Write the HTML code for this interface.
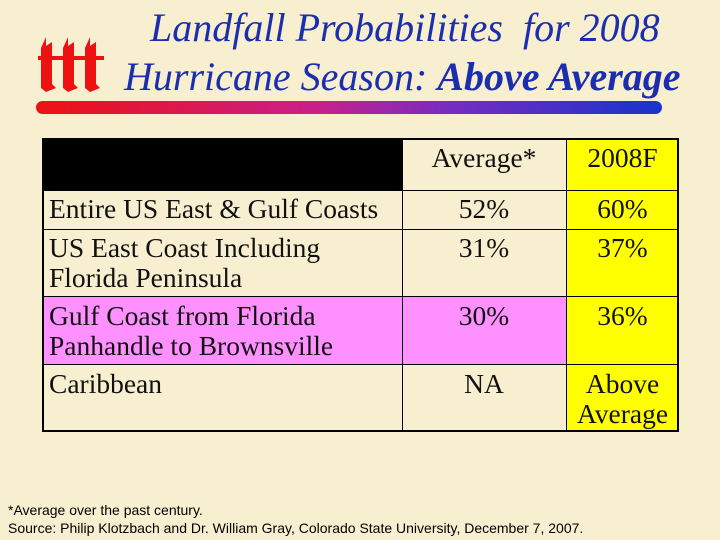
<!DOCTYPE html>
<html><head><meta charset="utf-8"><style>
body{margin:0;width:720px;height:540px;background:#f8eed0;position:relative;overflow:hidden;font-family:"Liberation Serif",serif;}
.t{position:absolute;color:#1b2fae;font-style:italic;font-size:40px;white-space:nowrap;}
.c{position:absolute;box-sizing:border-box;font-size:27.5px;line-height:30px;color:#111;white-space:nowrap}
.ctr{text-align:center}
.hl{position:absolute;background:#000}
.foot{position:absolute;left:8px;font-family:"Liberation Sans",sans-serif;font-size:14px;color:#000;white-space:nowrap}
</style></head><body>
<svg style="position:absolute;left:38px;top:34px" width="66" height="60" viewBox="0 0 66 60">
<g fill="#ee1111">
<polygon points="3,14 8,3 8,12 14,8 14,50 18,54 8,58 3,54"/>
<polygon points="25,14 30,3 30,12 36,8 36,50 40,54 30,58 25,54"/>
<polygon points="47,14 52,3 52,12 58,8 58,50 62,54 52,58 47,54"/>
<rect x="0" y="22" width="66" height="4"/>
</g></svg>
<div class="t" style="left:150px;top:4px">Landfall Probabilities&nbsp; for 2008</div>
<div class="t" style="left:124px;top:53px">Hurricane Season: <b>Above Average</b></div>
<div style="position:absolute;left:36px;top:101px;width:626px;height:13px;border-radius:7px;background:linear-gradient(90deg,#ee1111,#c8208a 45%,#7a2cc0 65%,#1833cc)"></div>

<div style="position:absolute;left:42px;top:138px;width:637px;height:294px;">
<div class="c" style="left:0;top:0;width:360px;height:52px;background:#000"></div>
<div class="c ctr" style="left:360px;top:5px;width:164px">Average*</div>
<div class="c ctr" style="left:524px;top:0;width:113px;height:294px;background:#ffff00;padding-top:5px">2008F</div>
<div class="c" style="left:0;top:158px;width:524px;height:68px;background:#ff90ff"></div>

<div class="c" style="left:7px;top:56px">Entire US East &amp; Gulf Coasts</div>
<div class="c ctr" style="left:360px;top:56px;width:164px">52%</div>
<div class="c ctr" style="left:524px;top:56px;width:113px">60%</div>

<div class="c" style="left:7px;top:95px">US East Coast Including<br>Florida Peninsula</div>
<div class="c ctr" style="left:360px;top:95px;width:164px">31%</div>
<div class="c ctr" style="left:524px;top:95px;width:113px">37%</div>

<div class="c" style="left:7px;top:163px">Gulf Coast from Florida<br>Panhandle to Brownsville</div>
<div class="c ctr" style="left:360px;top:163px;width:164px">30%</div>
<div class="c ctr" style="left:524px;top:163px;width:113px">36%</div>

<div class="c" style="left:7px;top:231px">Caribbean</div>
<div class="c ctr" style="left:360px;top:231px;width:164px">NA</div>
<div class="c ctr" style="left:524px;top:231px;width:113px">Above<br>Average</div>

<div class="hl" style="left:0;top:0;width:637px;height:2px"></div>
<div class="hl" style="left:0;top:52px;width:637px;height:1px"></div>
<div class="hl" style="left:0;top:91px;width:637px;height:1px"></div>
<div class="hl" style="left:0;top:158px;width:637px;height:1px"></div>
<div class="hl" style="left:0;top:226px;width:637px;height:1px"></div>
<div class="hl" style="left:0;top:292px;width:637px;height:2px"></div>
<div class="hl" style="left:0;top:0;width:2px;height:294px"></div>
<div class="hl" style="left:360px;top:0;width:1px;height:294px"></div>
<div class="hl" style="left:524px;top:0;width:1px;height:294px"></div>
<div class="hl" style="left:635px;top:0;width:2px;height:294px"></div>
</div>

<div class="foot" style="top:502px">*Average over the past century.</div>
<div class="foot" style="top:520px">Source: Philip Klotzbach and Dr. William Gray, Colorado State University, December 7, 2007.</div>
</body></html>
